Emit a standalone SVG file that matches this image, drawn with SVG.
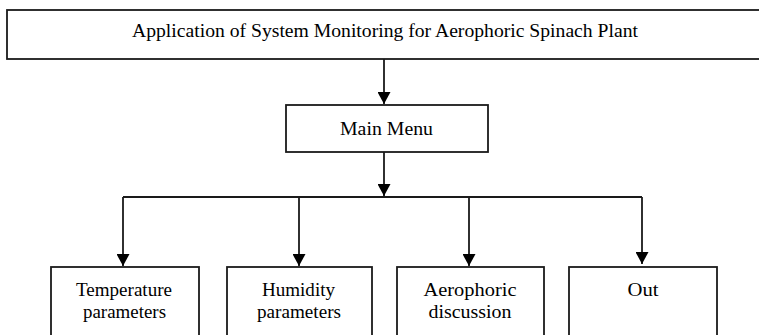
<svg xmlns="http://www.w3.org/2000/svg" width="759" height="335" viewBox="0 0 759 335">
<style>
.box{fill:#fff;stroke:#1a1a1a;stroke-width:1.8}
.t{font-family:"Liberation Serif","Times New Roman","DejaVu Serif",serif;font-size:18px;fill:#000;text-anchor:middle}
.c{fill:none;stroke:#1a1a1a;stroke-width:1.8}
</style>
<defs>
<marker id="ah" markerWidth="12" markerHeight="13" refX="10" refY="5" orient="auto" markerUnits="userSpaceOnUse" viewBox="0 0 10 10" preserveAspectRatio="none">
<path d="M0,0 L10,5 L0,10 Z" fill="#000"/>
</marker>
</defs>
<rect width="759" height="335" fill="#fff"/>
<g id="top">
<rect class="box" x="7" y="10" width="760" height="49"/>
<text class="t" x="385" y="37" textLength="506" lengthAdjust="spacingAndGlyphs">Application of System Monitoring for Aerophoric Spinach Plant</text>
</g>
<g id="main">
<rect class="box" x="286" y="105" width="202" height="47"/>
<text class="t" x="386.5" y="135" textLength="93" lengthAdjust="spacingAndGlyphs">Main Menu</text>
</g>
<g id="temp">
<rect class="box" x="51" y="267" width="148" height="80"/>
<text class="t" x="124" y="296" textLength="96" lengthAdjust="spacingAndGlyphs">Temperature</text>
<text class="t" x="124.5" y="318" textLength="83" lengthAdjust="spacingAndGlyphs">parameters</text>
</g>
<g id="hum">
<rect class="box" x="227" y="267" width="145" height="80"/>
<text class="t" x="298.5" y="296" textLength="73" lengthAdjust="spacingAndGlyphs">Humidity</text>
<text class="t" x="299" y="318" textLength="84" lengthAdjust="spacingAndGlyphs">parameters</text>
</g>
<g id="aero">
<rect class="box" x="397" y="267" width="147" height="80"/>
<text class="t" x="470" y="296" textLength="93" lengthAdjust="spacingAndGlyphs">Aerophoric</text>
<text class="t" x="470" y="318" textLength="83" lengthAdjust="spacingAndGlyphs">discussion</text>
</g>
<g id="out">
<rect class="box" x="569" y="267" width="148" height="80"/>
<text class="t" x="643" y="296" textLength="31" lengthAdjust="spacingAndGlyphs">Out</text>
</g>
<g id="connectors">
<line class="c" x1="384" y1="59" x2="384" y2="104" marker-end="url(#ah)"/>
<line class="c" x1="384" y1="152" x2="384" y2="196" marker-end="url(#ah)"/>
<path class="c" d="M123,197 H642"/>
<line class="c" x1="123" y1="197" x2="123" y2="266" marker-end="url(#ah)"/>
<line class="c" x1="299" y1="197" x2="299" y2="266" marker-end="url(#ah)"/>
<line class="c" x1="469" y1="197" x2="469" y2="266" marker-end="url(#ah)"/>
<line class="c" x1="642" y1="197" x2="642" y2="264" marker-end="url(#ah)"/>
</g>
</svg>
